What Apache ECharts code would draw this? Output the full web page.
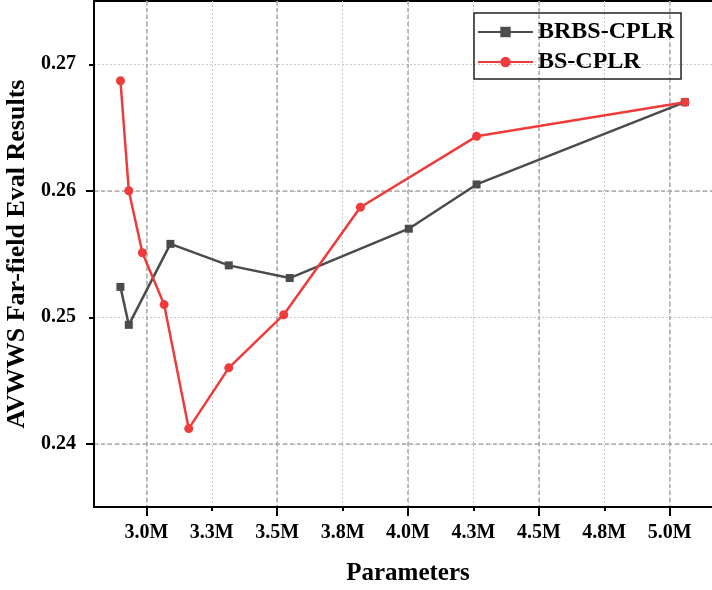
<!DOCTYPE html>
<html>
<head>
<meta charset="UTF-8">
<title>AVWWS Far-field Eval Results</title>
<script src="https://cdn.jsdelivr.net/npm/echarts@6/dist/echarts.min.js"></script>
<style>
  html, body { margin: 0; padding: 0; background: #fff; }
</style>
</head>
<body>
<div id="main" style="width: 712px; height: 590px;"></div>
<script type="text/javascript">
// data (parameters in M)
var seriesNames = ['BRBS-CPLR', 'BS-CPLR'];
var brbsX = [2.901, 2.933, 3.092, 3.315, 3.548, 4.003, 4.262, 5.058];
var brbsY = [0.2524, 0.2494, 0.2558, 0.2541, 0.2531, 0.2570, 0.2605, 0.2670];
var bsX = [2.901, 2.933, 2.985, 3.068, 3.162, 3.315, 3.525, 3.818, 4.262, 5.058];
var bsY = [0.2687, 0.2600, 0.2551, 0.2510, 0.2412, 0.2460, 0.2502, 0.2587, 0.2643, 0.2670];

var xTicks = [3.0, 3.25, 3.5, 3.75, 4.0, 4.25, 4.5, 4.75, 5.0];
var xTickLabels = ['3.0M', '3.3M', '3.5M', '3.8M', '4.0M', '4.3M', '4.5M', '4.8M', '5.0M'];
var xMajor = [3.0, 3.5, 4.0, 4.5, 5.0];
var yTicks = [0.24, 0.25, 0.26, 0.27];
var yTickLabels = ['0.24', '0.25', '0.26', '0.27'];
var yMajor = [0.24, 0.26];

function pairs(xs, ys) {
    return xs.map(function (x, i) { return [x, ys[i]]; });
}
function labelFor(ticks, labels) {
    return function (v) {
        for (var i = 0; i < ticks.length; i++) {
            if (Math.abs(ticks[i] - v) < 1e-6) return labels[i];
        }
        return '';
    };
}

var FONT = 'Liberation Serif';
var chart = echarts.init(document.getElementById('main'));

var option = {
    animation: false,
    textStyle: { fontFamily: FONT },
    grid: {
        left: 94, right: -10, top: 1, bottom: 83,
        outerBoundsMode: 'none', containLabel: false,
        show: true, borderColor: '#000', borderWidth: 2, backgroundColor: 'transparent'
    },
    legend: {
        orient: 'vertical',
        left: 474, top: 13,
        padding: [7, 7, 5, 3],
        itemWidth: 55, itemHeight: 13, itemGap: 6,
        borderColor: '#222', borderWidth: 1.5,
        textStyle: { fontFamily: FONT, fontWeight: 'bold', fontSize: 24, color: '#000' },
        data: seriesNames
    },
    xAxis: [{
        type: 'value', min: 2.8, max: 5.2, position: 'bottom',
        name: 'Parameters', nameLocation: 'middle', nameGap: 54,
        nameTextStyle: { fontFamily: FONT, fontWeight: 'bold', fontSize: 25, color: '#000' },
        axisLine: { show: true, lineStyle: { color: '#000', width: 2 } },
        axisTick: { show: true, customValues: xTicks, length: 4, lineStyle: { color: '#000', width: 2 } },
        axisLabel: {
            customValues: xTicks, margin: 16, formatter: labelFor(xTicks, xTickLabels),
            fontFamily: FONT, fontWeight: 'bold', fontSize: 20, color: '#000'
        },
        splitLine: { show: true, lineStyle: { color: '#c8c8c8', type: [2, 2], width: 1 } }
    }, {
        type: 'value', min: 2.8, max: 5.2, position: 'bottom',
        axisLine: { show: false },
        axisTick: { show: true, customValues: xMajor, length: 9, lineStyle: { color: '#000', width: 2 } },
        axisLabel: { show: false, customValues: xMajor },
        splitLine: { show: true, lineStyle: { color: '#a8a8a8', type: [4, 3], width: 1.5 } }
    }],
    yAxis: [{
        type: 'value', min: 0.235, max: 0.275, position: 'left',
        name: 'AVWWS Far-field Eval Results', nameLocation: 'middle', nameGap: 56,
        nameTextStyle: { fontFamily: FONT, fontWeight: 'bold', fontSize: 26, color: '#000' },
        axisLine: { show: true, lineStyle: { color: '#000', width: 2 } },
        axisTick: { show: true, customValues: yTicks, length: 5, lineStyle: { color: '#000', width: 2 } },
        axisLabel: {
            customValues: yTicks, margin: 18, formatter: labelFor(yTicks, yTickLabels),
            fontFamily: FONT, fontWeight: 'bold', fontSize: 20, color: '#000'
        },
        splitLine: { show: true, lineStyle: { color: '#c8c8c8', type: [2, 2], width: 1 } }
    }, {
        type: 'value', min: 0.235, max: 0.275, position: 'left',
        axisLine: { show: false },
        axisTick: { show: true, customValues: yMajor, length: 8, lineStyle: { color: '#000', width: 2 } },
        axisLabel: { show: false, customValues: yMajor },
        splitLine: { show: true, lineStyle: { color: '#a8a8a8', type: [4, 3], width: 1.5 } }
    }],
    series: [{
        name: seriesNames[0],
        type: 'line',
        xAxisIndex: 0, yAxisIndex: 0,
        data: pairs(brbsX, brbsY),
        symbol: 'rect', symbolSize: 8,
        color: '#4b4b4b',
        lineStyle: { color: '#4b4b4b', width: 2.5 },
        itemStyle: { color: '#4b4b4b' }
    }, {
        name: seriesNames[1],
        type: 'line',
        xAxisIndex: 0, yAxisIndex: 0,
        data: pairs(bsX, bsY),
        symbol: 'circle', symbolSize: 9,
        color: '#ef3b3b',
        lineStyle: { color: '#ef3b3b', width: 2.5 },
        itemStyle: { color: '#ef3b3b' }
    }]
};

chart.setOption(option);
</script>
</body>
</html>
